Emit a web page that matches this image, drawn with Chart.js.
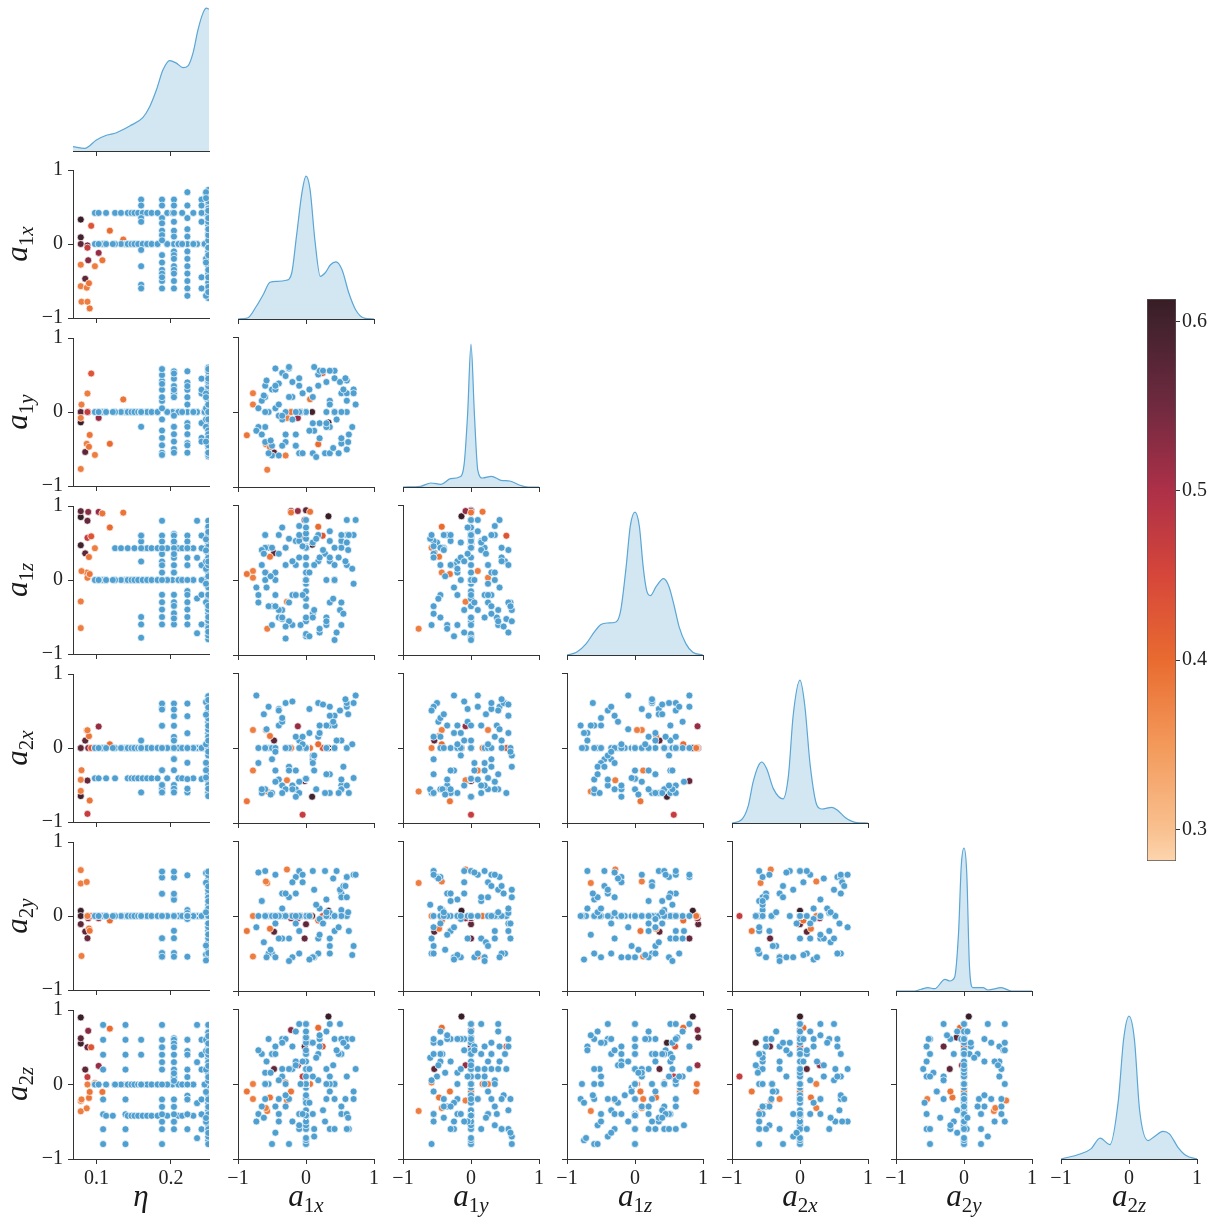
<!DOCTYPE html>
<html>
<head>
<meta charset="utf-8">
<script src="https://cdn.jsdelivr.net/npm/chart.js@4.4.0/dist/chart.umd.min.js"></script>
<style>
  html, body { margin: 0; padding: 0; background: #fff; overflow: hidden; }
  #fig { position: relative; width: 1214px; height: 1218px; overflow: hidden; background: #fff; }
  #fig canvas { position: absolute; }
  .lab { position: absolute; font-family: "Liberation Serif", "DejaVu Serif", serif; font-size: 31px;
         line-height: 1; color: #1a1a1a; white-space: nowrap; }
  .lab .sub { position: relative; top: 0.3em; font-size: 21px; }
</style>
</head>
<body>
<div id="fig"></div>
<script>
// ---- blue samples (no colour value) ----
var blueEta = [
  0.109,0.109,0.109,0.109,0.109,0.109,0.109,0.109,
  0.139,0.139,0.139,0.139,0.139,0.139,0.139,0.139,
  0.25,0.235,0.25,0.204,0.25,0.235,0.222,0.25,0.204,0.25,0.235,0.222,0.25,0.204,0.25,0.235,
  0.098,0.103,0.113,0.125,0.133,0.142,0.147,0.151,0.156,0.162,0.168,0.174,0.182,0.195,0.202,0.215,0.23,0.245,
  0.125,0.133,0.142,0.151,0.162,0.168,0.174,0.182,0.195,0.21,0.215,0.23,0.245,
  0.098,0.103,0.113,0.125,0.142,0.147,0.151,0.156,0.162,0.168,0.174,0.182,0.195,0.21,0.215,0.23,0.245,
  0.113,0.122,0.142,0.147,0.151,0.156,0.162,0.168,0.174,0.182,0.195,0.21,0.215,0.23,0.245,
  0.16,0.16,0.16,0.16,0.16,0.16,0.16,0.16,
  0.188,0.188,0.188,0.188,0.188,0.188,0.188,0.188,0.188,0.188,0.188,0.188,0.188,0.188,
  0.204,0.204,0.204,0.204,0.204,0.204,0.204,0.204,0.204,0.204,0.204,0.204,0.204,0.204,
  0.222,0.222,0.222,0.222,0.222,0.222,0.222,0.222,0.222,0.222,0.222,0.222,
  0.241,0.241,0.241,0.241,0.241,0.241,
  0.25,0.25,0.25,0.25,0.25,0.25,0.25,0.25,0.25,0.25,0.25,0.25,0.25,0.25,0.25,0.25,
  0.25,0.25,0.25,0.25,0.247,0.25,0.25,0.25,0.25,0.247,0.25,0.25,0.25,0.25,0.247,
  0.25,0.25,0.25,0.25,0.247,0.25,0.25,0.25,0.25,0.247,0.25,0.25,0.25,0.25,0.247
];
var blueA1x = [
  0,0,0,0,0,0,0,0,0,0,0,0,0,0,0,0,
  0,0,0,0,0,0,0,0,0,0,0,0,0,0,0,0,
  0.42,0.42,0.42,0.42,0.42,0.42,0.42,0.42,0.42,0.42,0.42,0.42,0.42,0.42,0.42,0.42,0.42,0.42,
  0,0,0,0,0,0,0,0,0,0,0,0,0,
  0,0,0,0,0,0,0,0,0,0,0,0,0,0,0,0,0,
  0,0,0,0,0,0,0,0,0,0,0,0,0,0,0,
  0.6,0.52,0.35,0.3,-0.08,-0.3,-0.55,-0.6,
  0.6,0.52,0.35,0.28,0.18,0.12,0.05,-0.15,-0.25,-0.35,-0.4,-0.5,-0.6,-0.45,
  0.6,0.52,0.42,0.3,0.18,0.1,-0.1,-0.15,-0.2,-0.3,-0.35,-0.4,-0.5,-0.6,
  0.7,0.52,0.35,0.2,0.1,-0.1,-0.2,-0.3,-0.4,-0.5,-0.6,-0.7,
  0.6,0.52,0.42,0.3,-0.45,-0.6,
  0.73,0.63,0.5,0.35,0.2,0.1,-0.05,-0.15,-0.25,-0.35,-0.45,-0.55,-0.65,-0.73,0.42,-0.1,
  0.55,-0.62,0.15,-0.3,0.68,-0.1,0.4,-0.52,0.25,-0.7,0.05,0.6,-0.4,0.3,-0.2,
  0.48,-0.58,0.12,-0.35,0.7,-0.05,0.35,-0.65,0.2,-0.25,0.58,-0.45,0.45,-0.15,0.62
];
var blueA1y = [
  0,0,0,0,0,0,0,0,0,0,0,0,0,0,0,0,
  0,0,0,0,0,0,0,0,0,0,0,0,0,0,0,0,
  0,0,0,0,0,0,0,0,0,0,0,0,0,0,0,0,0,0,
  0,0,0,0,0,0,0,0,0,0,0,0,0,
  0,0,0,0,0,0,0,0,0,0,0,0,0,0,0,0,0,
  0,0,0,0,0,0,0,0,0,0,0,0,0,0,0,
  0,0,-0.2,0,0,0,0,0,
  0.42,-0.35,0.15,-0.55,0.5,-0.25,0.3,-0.45,0.58,-0.1,0.38,-0.58,0.2,0.05,
  -0.5,0.25,0.55,-0.2,0.35,-0.55,0.45,-0.3,0.2,-0.4,0.52,-0.05,0.3,-0.2,
  0.3,-0.42,0.55,-0.15,0.2,-0.55,0.4,-0.3,0.1,-0.45,0.35,-0.2,
  0.25,-0.35,0.45,-0.15,0.3,-0.4,
  0.1,-0.3,0.4,-0.55,0.55,-0.15,0.25,-0.45,0.6,-0.05,0.35,-0.55,0.15,-0.25,0,0,
  0.3,0.22,-0.6,0.48,-0.2,0.35,-0.48,-0.38,0.55,0.05,-0.25,0.15,-0.58,0.4,-0.1,
  -0.55,0.42,0.6,-0.45,0.25,-0.55,0.1,-0.3,-0.35,0.2,0.45,0.58,-0.1,0,-0.4
];
var blueA1z = [
  0,0,0,0,0,0,0,0,0,0,0,0,0,0,0,0,
  -0.75,-0.72,-0.55,-0.5,-0.35,-0.25,-0.15,-0.05,0.1,0.2,0.3,0.45,0.55,0.62,0.7,0.8,
  0,0,0,0,0,0,0,0,0,0,0,0,0,0,0,0,0,0,
  0.43,0.43,0.43,0.43,0.43,0.43,0.43,0.43,0.43,0.43,0.43,0.43,0.43,
  0,0,0,0,0,0,0,0,0,0,0,0,0,0,0,0,0,
  0,0,0,0,0,0,0,0,0,0,0,0,0,0,0,
  0.6,0.52,0.25,-0.5,-0.6,-0.78,0.43,0.6,
  0.8,0.6,0.52,0.35,0.25,0.2,0.1,-0.2,-0.3,-0.4,-0.5,-0.6,0.43,0,
  0.5,-0.3,0.2,-0.6,0.6,-0.45,0.3,0.52,-0.2,0.43,-0.52,0.35,-0.35,0.1,
  0.6,0.43,-0.3,0.3,-0.5,0.52,-0.6,0.2,-0.4,0.43,0,-0.2,
  0.2,-0.6,0.43,0,-0.2,0.6,
  0.8,0.6,-0.4,0.3,-0.7,0.5,-0.2,0.2,-0.55,0.7,0.1,-0.35,0.4,-0.1,-0.8,0.6,
  -0.45,0.35,0.55,-0.62,0.15,0.72,-0.25,0.05,0.4,-0.3,-0.75,0.5,0.6,-0.55,0.25,
  0.3,-0.1,-0.4,-0.5,-0.05,0.45,0.65,0.2,-0.65,0.55,0.25,-0.35,-0.7,-0.2,0.4
];
var blueA2x = [
  0,0,0,0,0,0,0,0,0,0,0,0,0,0,0,0,
  0,0,0,0,0,0,0,0,0,0,0,0,0,0,0,0,
  0,0,0,0,0,0,0,0,0,0,0,0,0,0,0,0,0,0,
  0,0,0,0,0,0,0,0,0,0,0,0,0,
  -0.41,-0.41,-0.41,-0.41,-0.41,-0.41,-0.41,-0.41,-0.41,-0.41,-0.41,-0.41,-0.41,-0.41,-0.41,-0.41,-0.41,
  0,0,0,0,0,0,0,0,0,0,0,0,0,0,0,
  0,0.1,-0.6,0,0,0,0,0,
  0.55,-0.5,0.3,-0.6,0.6,-0.3,0.52,-0.55,0,-0.5,0.3,-0.6,0,-0.3,
  0.6,-0.55,0.43,0.3,0.15,-0.15,0.1,-0.3,-0.5,-0.55,-0.6,0.52,-0.15,0,
  0.6,-0.55,0.43,0.2,-0.2,-0.6,-0.55,0,-0.42,0,-0.55,0,
  0,-0.42,0,0,0,0,
  0.7,-0.6,0.5,-0.35,0.2,-0.1,0.05,0.15,-0.25,0.35,-0.45,0.55,-0.6,0.7,0.3,0,
  -0.25,0.45,-0.55,0.6,0.05,-0.45,0.35,-0.62,0.58,-0.2,0.2,-0.5,0.5,-0.35,0.62,
  -0.6,0.25,-0.1,0.4,-0.4,0.15,0.55,-0.55,0.3,-0.3,0.65,-0.05,0.1,-0.65,0.45
];
var blueA2y = [
  0,0,0,0,0,0,0,0,0,0,0,0,0,0,0,0,
  0,0,0,0,0,0,0,0,0,0,0,0,0,0,0,0,
  0,0,0,0,0,0,0,0,0,0,0,0,0,0,0,0,0,0,
  0,0,0,0,0,0,0,0,0,0,0,0,0,
  0,0,0,0,0,0,0,0,0,0,0,0,0,0,0,0,0,
  0,0,0,0,0,0,0,0,0,0,0,0,0,0,0,
  0,0,0,0,0,0,0,0,
  0.52,0.3,-0.3,0.6,-0.5,-0.55,0,0.52,-0.3,0.3,0,-0.5,0.6,-0.55,
  0.52,0.25,-0.2,0.22,-0.3,0.6,-0.5,0.3,-0.55,0,0,0,0,0,
  0.55,0.08,0.04,-0.04,-0.55,0,0,0,0,0,0,0,
  0,0,0,0,0,0,
  0.55,-0.2,0.35,-0.4,0.1,-0.55,0.45,-0.1,0.25,-0.3,0.55,-0.5,0.2,-0.15,0,0.6,
  0.4,-0.35,0.15,0.3,-0.52,-0.2,0.5,-0.45,-0.1,0.58,-0.58,0.25,-0.3,0.05,0.45,
  -0.15,-0.55,0.35,0.1,-0.4,0.55,-0.5,0.2,-0.25,-0.6,0.4,-0.1,0.6,0,0.05
];
var blueA2z = [
  -0.8,-0.6,-0.4,-0.2,0.2,0.4,0.6,0.8,
  -0.8,-0.6,-0.4,-0.2,0.2,0.4,0.6,0.8,
  -0.75,-0.72,-0.55,-0.5,-0.35,-0.25,-0.15,-0.05,0.1,0.2,0.3,0.45,0.55,0.62,0.7,0.8,
  0,0,0,0,0,0,0,0,0,0,0,0,0,0,0,0,0,0,
  0,0,0,0,0,0,0,0,0,0,0,0,0,
  0,0,0,0,0,0,0,0,0,0,0,0,0,0,0,0,0,
  -0.42,-0.42,-0.42,-0.42,-0.42,-0.42,-0.42,-0.42,-0.42,-0.42,-0.42,-0.42,-0.42,-0.42,-0.42,
  0.6,0.4,0,0,0,0,0,0,
  0.5,-0.3,0.8,-0.5,0.4,-0.6,0.2,0.3,-0.2,0.6,-0.4,-0.8,0,0.5,
  0.1,-0.4,0.6,-0.2,0.05,0.55,-0.6,0.3,0.5,-0.3,0.2,-0.5,0.4,0.15,
  -0.2,0.4,-0.6,0.6,0.1,-0.4,0.2,0.6,-0.2,0.4,0,-0.4,
  -0.4,0.6,-0.6,0.2,0.4,-0.2,
  0.2,-0.6,0.8,-0.1,0.5,-0.4,0.3,0.7,-0.8,0.1,-0.3,0.6,0.4,-0.5,-0.2,0.8,
  0.55,-0.45,0.35,-0.15,0.6,-0.55,0.25,0.15,-0.35,0.45,-0.25,-0.6,0.05,0.7,-0.5,
  0.4,0.3,-0.7,0.55,-0.1,-0.4,0.1,-0.3,0.65,0.2,-0.2,-0.65,0.45,0.25,-0.45
];

// ---- coloured samples ----
var hotEta = [0.079,0.079,0.079,0.088,0.085,0.089,0.103,0.088,0.093,0.118,0.136,0.079,0.098,0.108,0.079,0.087,0.090,0.080,0.088,0.091];
var hotA1x = [0.33,0.09,0.0,-0.02,-0.47,-0.22,-0.12,-0.05,0.245,0.18,0.06,-0.28,-0.30,-0.22,-0.57,-0.59,-0.53,-0.78,-0.78,-0.87];
var hotA1y = [-0.14,0.0,0.0,0.0,-0.54,0.0,-0.08,0.0,0.52,-0.43,0.17,-0.08,-0.58,0.0,-0.77,-0.43,-0.47,0.10,0.25,-0.31];
var hotA1z = [0.85,0.47,0.93,0.80,0.36,0.92,0.92,0.57,0.59,0.71,0.91,-0.29,0.43,0.90,-0.65,0.10,0.31,0.12,0.03,0.08];
var hotA2x = [0.0,-0.65,0.0,-0.44,0.10,0.0,0.29,-0.89,0.0,0.05,0.0,-0.43,0.0,0.0,-0.58,0.24,0.16,-0.30,0.24,-0.71];
var hotA2y = [0.07,0.0,-0.11,-0.30,-0.21,-0.03,-0.03,0.0,0.0,-0.06,0.0,0.62,0.0,0.0,0.44,0.46,-0.17,-0.54,0.0,-0.20];
var hotA2z = [0.90,0.55,0.62,0.50,0.20,0.72,0.25,0.10,0.50,0.75,0.0,-0.22,0.02,-0.10,-0.36,-0.32,-0.18,-0.20,0.0,-0.10];
var hotVal = [0.61,0.60,0.57,0.56,0.57,0.53,0.52,0.47,0.43,0.40,0.39,0.38,0.38,0.39,0.38,0.38,0.39,0.38,0.38,0.39];

// ---- diagonal density curves (relative height, peak = 1) ----
var kdeEtaX = [0.0686,0.0843,0.1,0.1134,0.1268,0.1446,0.1625,0.1714,0.1804,0.1893,0.1983,0.2072,0.2161,0.2228,0.2295,0.2362,0.2429,0.2475,0.251];
var kdeEtaY = [0.03,0.019,0.077,0.11,0.128,0.175,0.236,0.31,0.427,0.568,0.633,0.615,0.584,0.596,0.685,0.848,0.965,1.0,0.993];
var kdeA1xX = [-1.0,-0.86,-0.73,-0.63,-0.53,-0.43,-0.29,-0.21,-0.14,-0.06,0.0,0.06,0.13,0.21,0.28,0.36,0.44,0.53,0.63,0.73,0.85,1.0];
var kdeA1xY = [0,0.007,0.089,0.17,0.257,0.264,0.271,0.322,0.58,0.883,1.0,0.906,0.556,0.299,0.322,0.38,0.40,0.345,0.182,0.065,0.007,0];
var kdeA1yX = [-1.0,-0.74,-0.59,-0.44,-0.30,-0.17,-0.10,-0.05,0.0,0.05,0.10,0.17,0.30,0.44,0.57,0.72,0.84,1.0];
var kdeA1yY = [0,0.005,0.028,0.019,0.058,0.07,0.164,0.51,1.0,0.51,0.117,0.063,0.075,0.047,0.042,0.012,0,0];
var kdeA1zX = [-1.0,-0.86,-0.72,-0.6,-0.5,-0.4,-0.28,-0.21,-0.13,-0.07,0,0.064,0.12,0.17,0.225,0.31,0.42,0.5,0.58,0.65,0.75,0.85,1.0];
var kdeA1zY = [0,0.019,0.078,0.16,0.214,0.224,0.231,0.313,0.619,0.901,1,0.901,0.619,0.454,0.416,0.478,0.534,0.478,0.336,0.195,0.078,0.019,0];
var kdeA2xX = [-1.0,-0.86,-0.76,-0.69,-0.61,-0.56,-0.49,-0.39,-0.25,-0.17,-0.1,0,0.07,0.15,0.25,0.32,0.47,0.56,0.66,0.81,1.0];
var kdeA2xY = [0,0.023,0.122,0.286,0.403,0.427,0.379,0.239,0.169,0.332,0.754,1,0.824,0.403,0.122,0.098,0.11,0.086,0.04,0.005,0];
var kdeA2yX = [-1.0,-0.73,-0.63,-0.53,-0.43,-0.28,-0.21,-0.14,-0.08,-0.04,0,0.04,0.08,0.13,0.28,0.35,0.55,0.7,1.0];
var kdeA2yY = [0,0,0.012,0.023,0.016,0.082,0.07,0.094,0.41,0.878,1,0.831,0.176,0.023,0.023,0.007,0.023,0,0];
var kdeA2zX = [-1.0,-0.72,-0.56,-0.425,-0.28,-0.156,-0.08,0,0.08,0.156,0.28,0.375,0.5,0.594,0.72,0.84,1.0];
var kdeA2zY = [0,0.035,0.071,0.146,0.101,0.412,0.835,1,0.835,0.341,0.129,0.158,0.193,0.176,0.082,0.024,0];

// ---- axes ----
var varSub = ['', '1x', '1y', '1z', '2x', '2y', '2z'];
var axisLims = [[0.0686, 0.251], [-1, 1], [-1, 1], [-1, 1], [-1, 1], [-1, 1], [-1, 1]];
var etaTicks = [0.1, 0.2];
var spinTicks = [-1, 0, 1];

// ---- colour bar ----
var cbTicks = [0.3, 0.4, 0.5, 0.6];
var cmapVals = [0.2813, 0.30, 0.35, 0.40, 0.45, 0.50, 0.55, 0.60, 0.6134];
var cmapCols = ['#fdd5ae', '#f9c08f', '#f3995a', '#e96b30', '#d6463a', '#ad3048', '#702a40', '#42222d', '#371d25'];

var FONT = '"Liberation Serif", "DejaVu Serif", serif';
var AXIS = '#333333';
var TXT = '#222222';
var BLUE = '#4f9fd0';
var KDE_LINE = '#5aa6d5';
var KDE_FILL = 'rgba(79,159,208,0.25)';

// panel grid in page pixels
var X0 = 73.3, DX = 164.6, PW = 136;
var Y0 = 1.3, DY = 168, PH = 150;

var fig = document.getElementById('fig');

function pts(xs, ys) {
  return xs.map(function (v, i) { return { x: v, y: ys[i] }; });
}
function tickText(v) {
  var s = String(Math.round(v * 10) / 10);
  return s.charAt(0) === '-' ? '\u2212' + s.slice(1) : s;
}
function hex2rgb(h) {
  return [parseInt(h.substr(1, 2), 16), parseInt(h.substr(3, 2), 16), parseInt(h.substr(5, 2), 16)];
}
function cmap(v) {
  var n = cmapVals.length;
  for (var i = 0; i < n - 1; i++) {
    if (v <= cmapVals[i + 1] || i === n - 2) {
      var t = Math.max(0, Math.min(1, (v - cmapVals[i]) / (cmapVals[i + 1] - cmapVals[i])));
      var a = hex2rgb(cmapCols[i]), b = hex2rgb(cmapCols[i + 1]);
      return 'rgb(' + Math.round(a[0] + (b[0] - a[0]) * t) + ',' + Math.round(a[1] + (b[1] - a[1]) * t) + ',' + Math.round(a[2] + (b[2] - a[2]) * t) + ')';
    }
  }
}

var blueCols = [blueEta, blueA1x, blueA1y, blueA1z, blueA2x, blueA2y, blueA2z];
var hotCols = [hotEta, hotA1x, hotA1y, hotA1z, hotA2x, hotA2y, hotA2z];
var kdeXs = [kdeEtaX, kdeA1xX, kdeA1yX, kdeA1zX, kdeA2xX, kdeA2yX, kdeA2zX];
var kdeYs = [kdeEtaY, kdeA1xY, kdeA1yY, kdeA1zY, kdeA2xY, kdeA2yY, kdeA2zY];
var hotColors = hotVal.map(cmap);

function axisOpts(ticks, lims, showLabels, pos, size) {
  return {
    type: 'linear', position: pos, min: lims[0], max: lims[1],
    border: { display: true, color: AXIS, width: 1 },
    grid: { display: true, drawOnChartArea: false, drawTicks: true, tickLength: 5, color: AXIS, lineWidth: 1 },
    ticks: { display: showLabels, autoSkip: false, maxRotation: 0, padding: pos === 'left' ? 5 : 3,
             font: { family: FONT, size: 20 }, color: TXT, callback: tickText },
    afterBuildTicks: function (s) { s.ticks = ticks.map(function (v) { return { value: v }; }); },
    afterFit: function (s) { if (pos === 'left') s.width = size; else s.height = size; }
  };
}

function makePanel(r, c) {
  var diag = r === c;
  var ml = c === 0 ? 70 : 16, mr = 16, mt = 16, mb = r === 6 ? 46 : 16;
  var px = Math.round(X0 + DX * c), py = Math.round(Y0 + DY * r);
  var cv = document.createElement('canvas');
  cv.width = ml + PW + mr;
  cv.height = mt + PH + mb;
  cv.style.left = (px - ml) + 'px';
  cv.style.top = (py - mt) + 'px';
  fig.appendChild(cv);

  var datasets;
  if (diag) {
    datasets = [{
      type: 'line', data: pts(kdeXs[c], kdeYs[c]), borderColor: KDE_LINE, borderWidth: 1.2,
      backgroundColor: KDE_FILL, fill: 'origin', pointRadius: 0, cubicInterpolationMode: 'monotone', clip: 0
    }];
  } else {
    datasets = [
      { type: 'scatter', data: pts(blueCols[c], blueCols[r]), backgroundColor: BLUE,
        borderColor: '#ffffff', borderWidth: 0.7, pointRadius: 3.5, clip: 0 },
      { type: 'scatter', data: pts(hotCols[c], hotCols[r]), backgroundColor: hotColors,
        borderColor: '#ffffff', borderWidth: 0.7, pointRadius: 3.5, clip: 0 }
    ];
  }

  var xTicks = c === 0 ? etaTicks : spinTicks;
  var yScale = diag
    ? { type: 'linear', display: false, min: 0, max: 1.05 }
    : axisOpts(spinTicks, [-1, 1], c === 0, 'left', ml);

  new Chart(cv, {
    type: diag ? 'line' : 'scatter',
    data: { datasets: datasets },
    options: {
      responsive: false, animation: false, devicePixelRatio: 1, events: [],
      layout: { padding: { top: mt, right: mr, bottom: 0, left: diag ? ml : 0 } },
      plugins: { legend: { display: false }, tooltip: { enabled: false } },
      scales: {
        x: axisOpts(xTicks, axisLims[c], r === 6, 'bottom', mb),
        y: yScale
      }
    }
  });
}

for (var r = 0; r < 7; r++) {
  for (var c = 0; c <= r; c++) makePanel(r, c);
}

// axis labels as text
function labelHtml(i) {
  if (i === 0) return '<i>\u03b7</i>';
  return '<i>a</i><span class="sub">' + varSub[i].charAt(0) + '<i>' + varSub[i].charAt(1) + '</i></span>';
}
for (var i = 0; i < 7; i++) {
  var xl = document.createElement('div');
  xl.className = 'lab';
  xl.innerHTML = labelHtml(i);
  xl.style.left = (Math.round(X0 + DX * i) + PW / 2) + 'px';
  xl.style.top = '1180px';
  xl.style.transform = 'translateX(-50%)';
  fig.appendChild(xl);
  if (i > 0) {
    var yl = document.createElement('div');
    yl.className = 'lab';
    yl.innerHTML = labelHtml(i);
    yl.style.left = '16px';
    yl.style.top = (Math.round(Y0 + DY * i) + PH / 2) + 'px';
    yl.style.transform = 'translate(-50%,-50%) rotate(-90deg)';
    fig.appendChild(yl);
  }
}

// colour bar
var cb = document.createElement('canvas');
cb.width = 4 + 29 + 38;
cb.height = 14 + 562 + 14;
cb.style.left = '1143px';
cb.style.top = '285px';
fig.appendChild(cb);
var cbMin = cmapVals[0], cbMax = cmapVals[cmapVals.length - 1];
new Chart(cb, {
  type: 'bar',
  data: {
    labels: [''],
    datasets: [{
      data: [[cbMin, cbMax]],
      backgroundColor: function (ctx) {
        var ch = ctx.chart;
        if (!ch.chartArea) return cmapCols[0];
        var ys = ch.scales.y;
        var g = ch.ctx.createLinearGradient(0, ys.getPixelForValue(cbMin), 0, ys.getPixelForValue(cbMax));
        cmapVals.forEach(function (v, k) { g.addColorStop((v - cbMin) / (cbMax - cbMin), cmapCols[k]); });
        return g;
      },
      borderColor: '#555555', borderWidth: 1, borderSkipped: false,
      barPercentage: 1, categoryPercentage: 1
    }]
  },
  options: {
    responsive: false, animation: false, devicePixelRatio: 1, events: [],
    layout: { padding: { top: 14, bottom: 14, left: 4, right: 0 } },
    plugins: { legend: { display: false }, tooltip: { enabled: false } },
    scales: {
      x: { display: false },
      y: {
        position: 'right', min: cbMin, max: cbMax,
        border: { display: false },
        grid: { display: true, drawOnChartArea: false, drawTicks: true, tickLength: 4, color: AXIS },
        ticks: { padding: 2, font: { family: FONT, size: 20 }, color: TXT,
                 callback: function (v) { return v.toFixed(1); } },
        afterBuildTicks: function (s) { s.ticks = cbTicks.map(function (v) { return { value: v }; }); },
        afterFit: function (s) { s.width = 38; }
      }
    }
  }
});
</script>
</body>
</html>
